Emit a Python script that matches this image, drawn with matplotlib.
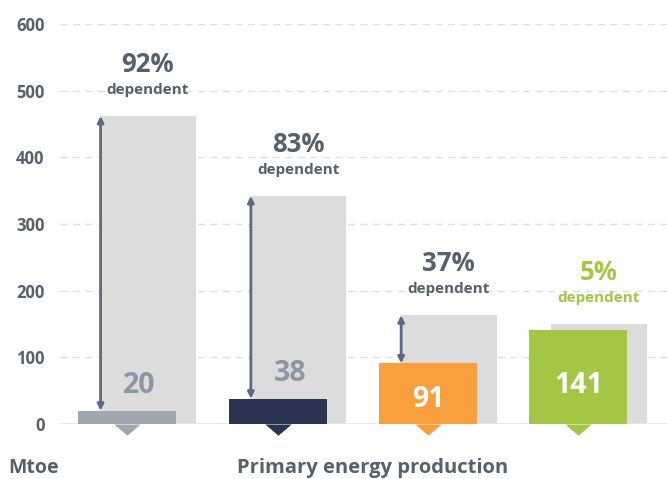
import matplotlib
matplotlib.use("Agg")
import matplotlib.pyplot as plt
import numpy as np

# data (Mtoe)
consumption = [462, 342, 163, 150]
production = [20, 38, 91, 141]
dependence = ["92%", "83%", "37%", "5%"]
prod_colors = ["#a0a6b2", "#2b3451", "#f99f3e", "#a3c644"]
ticks = [0, 100, 200, 300, 400, 500, 600]

TEXT = "#56626b"
GRAY_LBL = "#8c96a3"
ARROW = "#5b6886"

plt.rcParams["font.family"] = ["Open Sans", "DejaVu Sans"]

fig = plt.figure(figsize=(6.67, 4.79), dpi=100)
ax = fig.add_axes([60 / 667, 55 / 479, 607 / 667, 400 / 479])

x = np.arange(len(production))
w_prod = 0.652
w_cons = 0.64
off = 0.136

ax.bar(x + off, consumption, width=w_cons, color="#dcdcdc", zorder=2)
ax.bar(x, production, width=w_prod, color=prod_colors, zorder=3)

# little pointers under the production bars
tri = [(-1, 0), (1, 0), (0, -0.85)]
for xi, c in zip(x, prod_colors):
    ax.plot([xi], [0], marker=tri, ms=19, color=c, clip_on=False, zorder=4,
            markeredgewidth=0)

# arrows showing the gap
for xi, p, cval, d in zip(x, production, consumption, dependence):
    if d == "5%":
        continue
    xa = xi + off - w_cons / 2 + 0.005
    ax.annotate("", xy=(xa, cval), xytext=(xa, p),
                arrowprops=dict(arrowstyle="<|-|>", color=ARROW, lw=2,
                                mutation_scale=9, shrinkA=0, shrinkB=0),
                zorder=5)

# dependence labels
for xi, cval, d in zip(x, consumption, dependence):
    col = "#a3c644" if d == "5%" else TEXT
    ax.annotate(d, (xi + off, cval), xytext=(0, 37), textcoords="offset points",
                ha="center", va="center", fontsize=18.5, fontweight="bold", color=col)
    ax.annotate("dependent", (xi + off, cval), xytext=(0, 19), textcoords="offset points",
                ha="center", va="center", fontsize=11, fontweight="bold", color=col)

# production values
for xi, p in zip(x, production):
    if p < 50:
        ax.annotate(str(p), (xi + 0.08, p), xytext=(0, 18), textcoords="offset points",
                    ha="center", va="center", fontsize=20.5, fontweight="bold",
                    color=GRAY_LBL, zorder=6)
    else:
        ax.text(xi, p * 0.41, str(p), ha="center", va="center", fontsize=20.5,
                fontweight="bold", color="white", zorder=6)

ax.set_xlim(-0.449, 3.59)
ax.set_ylim(0, 600)
ax.set_yticks(ticks)
ax.set_yticklabels([str(t) for t in ticks], fontsize=12, fontweight="bold", color=TEXT)
ax.tick_params(axis="y", length=0, pad=11)
ax.set_xticks([])
for s in ax.spines.values():
    s.set_visible(False)
for t in ticks[1:]:
    ax.axhline(t, color="#dddddd", lw=1, ls=(0, (5, 4)), zorder=1)
ax.axhline(0, color="#e6e6e6", lw=2, zorder=2.5)

fig.text(8 / 667, 1 - 468 / 479, "Mtoe", ha="left", va="center", fontsize=14,
         fontweight="bold", color=TEXT)
fig.text(373 / 667, 1 - 468 / 479, "Primary energy production", ha="center",
         va="center", fontsize=14.5, fontweight="bold", color=TEXT)

fig.savefig("out.png", dpi=100)
